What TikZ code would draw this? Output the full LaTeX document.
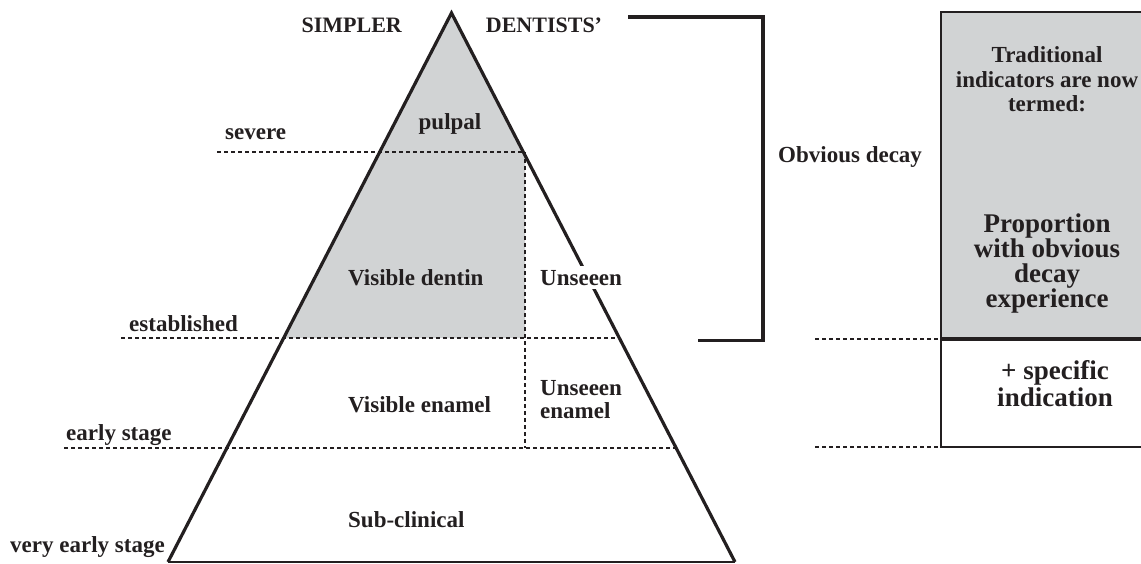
\documentclass[tikz,border=0pt]{standalone}
\usepackage{fontspec}
\setmainfont{Liberation Serif}
\definecolor{ink}{HTML}{231F20}
\definecolor{fillgray}{HTML}{D1D3D4}
\begin{document}
\begin{tikzpicture}[x=1pt,y=-1pt,
  lbl/.style={font=\fontsize{23}{24}\selectfont\bfseries, text=ink, inner sep=0pt},
  big/.style={font=\fontsize{27}{27}\selectfont\bfseries, text=ink, inner sep=0pt},
  edge/.style={draw=ink, line width=3.2pt, line join=miter},
  bracket/.style={draw=ink, line width=3.5pt, line join=miter},
  level/.style={draw=ink, line width=1.6pt, dash pattern=on 4pt off 3pt},
  frame/.style={draw=ink, line width=1.6pt}]
\useasboundingbox (0,0) rectangle (1141,564);

% key points of the pyramid
\coordinate (apex) at (451.5,13);
\coordinate (bl) at (168,562);
\coordinate (br) at (735,562);
\coordinate (sevL) at (379.7,152);
\coordinate (sevR) at (523.3,152);
\coordinate (estL) at (283.7,338);
\coordinate (estR) at (619.3,338);
\coordinate (earL) at (226.9,448);
\coordinate (earR) at (676.1,448);
\coordinate (sevStart) at (217,152);
\coordinate (estStart) at (121,338);
\coordinate (earStart) at (64,448);
\coordinate (vTop) at (525,152);
\coordinate (vMid) at (525,338);
\coordinate (vBot) at (525,448);

% grey region
\fill[fillgray] (apex) -- (sevR) -- (vTop) -- (vMid) -- (estL) -- cycle;

% level lines
\draw[level] (sevStart) -- (sevR);
\draw[level] (estStart) -- (estR);
\draw[level] (earStart) -- (earR);
\draw[level] (vTop) -- (vBot);

% pyramid
\draw[edge] (bl) -- (apex) -- (br);
\draw[draw=ink, line width=1.8pt] (bl) -- (br);

% bracket
\coordinate (brA) at (628,17);
\coordinate (brB) at (763,17);
\coordinate (brC) at (763,340.5);
\coordinate (brD) at (698,340.5);
\draw[bracket] (brA) -- (brB) -- (brC) -- (brD);

% right box
\coordinate (boxTL) at (941,12);
\coordinate (boxTR) at (1141,12);
\coordinate (boxML) at (941,339);
\coordinate (boxMR) at (1141,339);
\coordinate (boxBL) at (941,447);
\coordinate (boxBR) at (1141,447);
\fill[fillgray] (boxTL) rectangle (boxMR);
\draw[frame] (boxTR) -- (boxTL) -- (boxBL) -- (boxBR);
\draw[draw=ink, line width=3.4pt] (boxML) -- (boxMR);

% right dashed lines
\coordinate (rd1) at (815,339);
\coordinate (rd2) at (815,447);
\draw[level] (rd1) -- (boxML);
\draw[level] (rd2) -- (boxBL);

% labels
\node[lbl, font=\fontsize{22}{24}\selectfont\bfseries, anchor=base] (simpler) at (351.7,33) {SIMPLER};
\node[lbl, font=\fontsize{22}{24}\selectfont\bfseries, anchor=base] (dentists) at (544,33) {DENTISTS’};
\node[lbl, anchor=base] (pulpal) at (450,130) {pulpal};
\node[lbl, anchor=base west] (severe) at (225,140) {severe};
\node[lbl, anchor=base west] (established) at (129,331) {established};
\node[lbl, anchor=base west] (early) at (66,440) {early stage};
\node[lbl, anchor=base west] (veryearly) at (10,552) {very early stage};
\node[lbl, anchor=base west] (vdentin) at (348,285) {Visible dentin};
\node[lbl, anchor=base west, fill=white, inner xsep=3pt, inner ysep=4pt] (unseen) at (537,285) {Unseeen};
\node[lbl, anchor=base west] (venamel) at (348,412) {Visible enamel};
\node[lbl, anchor=base west] (unseenE1) at (540,395) {Unseeen};
\node[lbl, anchor=base west] (unseenE2) at (540,418) {enamel};
\node[lbl, anchor=base west] (subclin) at (348,527) {Sub-clinical};
\node[lbl, anchor=base west] (obvious) at (778,163) {Obvious decay};

\node[lbl, anchor=base] (trad1) at (1047,63) {Traditional};
\node[lbl, anchor=base] (trad2) at (1047,88) {indicators are now};
\node[lbl, anchor=base] (trad3) at (1047,112) {termed:};

\node[big, anchor=base] (prop1) at (1047,233) {Proportion};
\node[big, anchor=base] (prop2) at (1047,258) {with obvious};
\node[big, anchor=base] (prop3) at (1047,283) {decay};
\node[big, anchor=base] (prop4) at (1047,308) {experience};

\node[big, anchor=base] (spec1) at (1055,379) {+ specific};
\node[big, anchor=base] (spec2) at (1055,406) {indication};
\end{tikzpicture}
\end{document}
